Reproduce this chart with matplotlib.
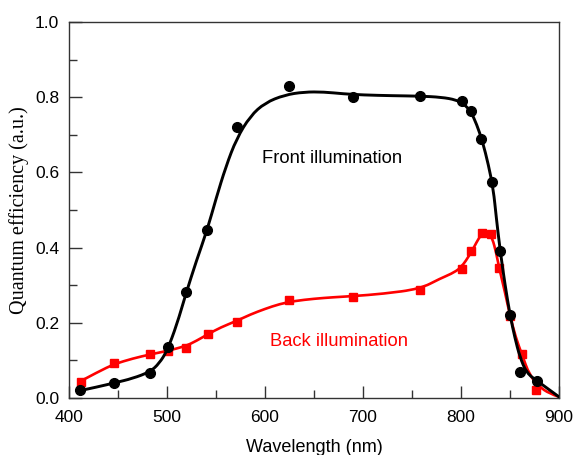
import matplotlib.pyplot as plt
from matplotlib.path import Path
from matplotlib.patches import PathPatch
from matplotlib.ticker import MultipleLocator

plt.rcParams['font.family'] = ['Liberation Sans', 'DejaVu Sans']

# measured quantum efficiency
wl_front = [411, 446, 483, 501, 519, 541, 571, 624, 690, 758, 801, 810, 820, 832, 840, 850, 860, 878]
qe_front = [0.021, 0.039, 0.066, 0.136, 0.281, 0.447, 0.722, 0.831, 0.800, 0.804, 0.791, 0.764, 0.689, 0.575, 0.391, 0.221, 0.069, 0.045]

wl_back = [412, 446, 483, 501, 519, 542, 571, 624, 690, 758, 801, 810, 821, 831, 839, 850, 862, 877]
qe_back = [0.042, 0.092, 0.117, 0.126, 0.134, 0.171, 0.203, 0.261, 0.269, 0.286, 0.343, 0.391, 0.438, 0.436, 0.345, 0.219, 0.117, 0.021]

# fitted curves (used as control polygon of a smooth path)
fit_wl_front = [412, 430, 446, 465, 483, 492, 500, 510, 519, 530, 541, 550, 560, 571, 585, 600, 620,
                640, 660, 680, 700, 730, 758, 780, 795, 803, 810, 816, 822, 828, 833, 836, 840, 845,
                850, 855, 860, 867, 878, 890, 900]
fit_qe_front = [0.020, 0.030, 0.040, 0.052, 0.070, 0.092, 0.125, 0.195, 0.275, 0.365, 0.447, 0.530, 0.615,
                0.690, 0.750, 0.785, 0.806, 0.814, 0.814, 0.809, 0.806, 0.804, 0.803, 0.800, 0.793, 0.782,
                0.762, 0.728, 0.682, 0.620, 0.555, 0.480, 0.391, 0.300, 0.221, 0.160, 0.110, 0.066,
                0.045, 0.022, 0.003]

fit_wl_back = [412, 430, 446, 465, 483, 500, 519, 530, 542, 555, 571, 585, 600, 615, 630, 650, 670, 690,
               720, 758, 779, 790, 800, 810, 816, 820, 824, 828, 832, 836, 839, 845, 850, 856, 862, 870,
               880, 890, 900]
fit_qe_back = [0.045, 0.070, 0.090, 0.105, 0.116, 0.125, 0.138, 0.152, 0.170, 0.188, 0.205, 0.222, 0.237,
               0.250, 0.258, 0.264, 0.268, 0.271, 0.277, 0.290, 0.318, 0.330, 0.346, 0.385, 0.415, 0.432,
               0.442, 0.440, 0.425, 0.385, 0.345, 0.280, 0.219, 0.160, 0.117, 0.060, 0.030, 0.012, 0.003]


def smooth_curve(ax, xs, ys, **kw):
    # quadratic bezier through the midpoints of the control polygon
    pts = list(zip(xs, ys))
    verts = [pts[0]]
    codes = [Path.MOVETO]
    for i in range(1, len(pts) - 1):
        end = pts[i + 1] if i == len(pts) - 2 else ((pts[i][0] + pts[i + 1][0]) / 2, (pts[i][1] + pts[i + 1][1]) / 2)
        verts += [pts[i], end]
        codes += [Path.CURVE3, Path.CURVE3]
    patch = PathPatch(Path(verts, codes), facecolor='none', capstyle='round', joinstyle='round', **kw)
    ax.add_patch(patch)


fig = plt.figure(figsize=(5.77, 4.55), dpi=100)
ax = fig.add_axes([0.1196, 0.1253, 0.8492, 0.8263])

smooth_curve(ax, fit_wl_back, fit_qe_back, edgecolor='#ff0000', lw=1.9, zorder=2)
ax.plot(wl_back, qe_back, 's', color='#ff0000', ms=6, zorder=3)
smooth_curve(ax, fit_wl_front, fit_qe_front, edgecolor='black', lw=2.1, zorder=4)
ax.plot(wl_front, qe_front, 'o', color='black', ms=7, zorder=5)

ax.text(597, 0.638, 'Front illumination', color='black', fontsize=13.2, va='center')
ax.text(605, 0.149, 'Back illumination', color='#ff0000', fontsize=13.2, va='center')

ax.set_xlim(400, 900)
ax.set_ylim(0, 1.0)
ax.xaxis.set_major_locator(MultipleLocator(100))
ax.xaxis.set_minor_locator(MultipleLocator(50))
ax.yaxis.set_major_locator(MultipleLocator(0.2))
ax.yaxis.set_minor_locator(MultipleLocator(0.1))
ax.yaxis.set_major_formatter(plt.FormatStrFormatter('%.1f'))
ax.tick_params(which='both', direction='in', top=False, right=False, labelsize=12.5, color='#333333')
ax.tick_params(which='major', length=9, width=1)
ax.tick_params(which='minor', length=6, width=1)
ax.tick_params(axis='x', which='major', pad=9)
ax.tick_params(axis='y', which='major', pad=7)
for s in ax.spines.values():
    s.set_color('#333333')
    s.set_linewidth(1)

ax.set_xlabel('Wavelength (nm)', fontsize=13, labelpad=10)
ax.set_ylabel('Quantum efficiency (a.u.)', fontsize=14.5, family='Liberation Serif', labelpad=4)

fig.savefig('out.png', dpi=100)
